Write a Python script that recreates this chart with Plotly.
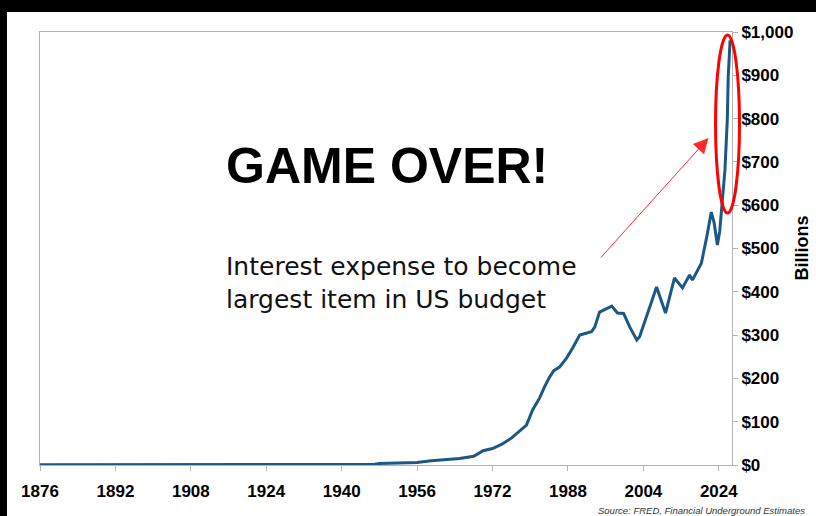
import plotly.graph_objects as go

# ---- data ----
years = [1876, 1885, 1895, 1900.5, 1901, 1915, 1930, 1940, 1947, 1948, 1952, 1956,
         1959, 1962, 1965, 1968, 1969.5, 1970, 1972, 1974, 1976, 1978, 1979.2, 1980.5,
         1982, 1983, 1984.1, 1985, 1986.2, 1987.7, 1989, 1990.5, 1992, 1993, 1993.7,
         1994.7, 1996, 1997.3, 1998.5, 1999.8, 2001.1, 2002.6, 2003.2, 2004.7, 2006,
         2006.8, 2008.7, 2010.6, 2012.3, 2013.8, 2014.4, 2016.3, 2017.5, 2018.4, 2019,
         2019.7, 2020.2, 2020.6, 2021.0, 2021.3, 2021.8, 2022.0, 2022.4]
interest = [0.3, 0.3, 0.3, 0.3, 1.5, 1.5, 1.5, 1.5, 1.8, 3.5, 4, 6,
            10, 12, 15, 20, 30, 33, 38, 48, 62, 80, 92, 127,
            155, 180, 203, 218, 226, 247, 270, 300, 305, 308, 319,
            353, 360, 367, 351, 350, 319, 289, 296, 342, 385,
            411, 351, 432, 409, 439, 427, 466, 530, 584, 560,
            508, 540, 585, 640, 681, 797, 897, 981]

x_tick_vals = [1876, 1892, 1908, 1924, 1940, 1956, 1972, 1988, 2004, 2020]
x_tick_text = ["1876", "1892", "1908", "1924", "1940", "1956", "1972", "1988", "2004", "2024"]
y_tick_vals = [0, 100, 200, 300, 400, 500, 600, 700, 800, 900, 1000]
y_tick_text = ["$0", "$100", "$200", "$300", "$400", "$500", "$600", "$700", "$800", "$900", "$1,000"]

title_text = "GAME OVER!"
note_text = "Interest expense to become<br>largest item in US budget"
source_text = "Source: FRED, Financial Underground Estimates"

# page offsets: black frame on the top (12px) and left (7px)
OX, OY = 7, 12
PAGE_W, PAGE_H = 816, 516
W, H = PAGE_W - OX, PAGE_H - OY
# plot area in page pixels: x 40..732.5, y 32..465
L, R, T, B = 40 - OX, PAGE_W - 732.5, 32 - OY, PAGE_H - 465
pw, ph = W - L - R, H - T - B


def px(xp):
    return (xp - OX - L) / pw


def py(yp):
    return (H - B - (yp - OY)) / ph


fig = go.Figure()
fig.add_trace(go.Scatter(
    x=years, y=interest, mode="lines",
    line=dict(color="#1c5886", width=3),
    hoverinfo="skip", showlegend=False,
))

axis_gray = "#b3b3b3"
tick_font = dict(family="Liberation Sans, Arial, sans-serif", size=17, color="#000000", weight="bold")

fig.update_layout(
    width=W, height=H,
    margin=dict(l=L, r=R, t=T, b=B, pad=0),
    paper_bgcolor="#ffffff", plot_bgcolor="#ffffff",
    xaxis=dict(
        range=[1876, 2022.8], tickmode="array", tickvals=x_tick_vals, ticktext=x_tick_text,
        showgrid=False, zeroline=False, showline=True, linecolor=axis_gray, linewidth=1,
        mirror=True, ticks="outside", ticklen=5, tickcolor=axis_gray,
        tickfont=tick_font, ticklabelstandoff=6,
    ),
    yaxis=dict(
        range=[0, 1000], side="right", tickmode="array", tickvals=y_tick_vals, ticktext=y_tick_text,
        showgrid=False, zeroline=False, showline=True, linecolor=axis_gray, linewidth=1,
        mirror=True, ticks="outside", ticklen=5, tickcolor=axis_gray,
        tickfont=tick_font,
    ),
    font=dict(family="Liberation Sans, Arial, sans-serif"),
)

fig.update_layout(
    annotations=[
        dict(text="<b>" + title_text + "</b>", x=px(387), y=py(166), xref="paper", yref="paper",
             xanchor="center", yanchor="middle", showarrow=False,
             font=dict(family="Liberation Sans, Arial, sans-serif", size=50, color="#000000")),
        dict(text=note_text, x=px(224), y=py(283), xref="paper", yref="paper",
             xanchor="left", yanchor="middle", align="left", showarrow=False,
             font=dict(family="DejaVu Sans, Verdana, sans-serif", size=25, color="#111111")),
        dict(text="<b>Billions</b>", x=px(803), y=py(248), xref="paper", yref="paper",
             xanchor="center", yanchor="middle", textangle=-90, showarrow=False,
             font=dict(family="Liberation Sans, Arial, sans-serif", size=18, color="#000000")),
        dict(text="<i>" + source_text + "</i>", x=px(808), y=py(510), xref="paper", yref="paper",
             xanchor="right", yanchor="middle", showarrow=False,
             font=dict(family="Liberation Sans Narrow, Liberation Sans, Arial, sans-serif", size=9.5,
                       color="#333333")),
        dict(text="", x=px(709), y=py(138), xref="paper", yref="paper",
             showarrow=True, ax=600 - 709, ay=259 - 138, axref="pixel", ayref="pixel",
             arrowcolor="#ff2a2a", arrowwidth=1, arrowhead=2, arrowsize=3, standoff=0),
    ],
    shapes=[
        dict(type="circle", xref="paper", yref="paper",
             x0=px(716), x1=px(740), y0=py(213), y1=py(35),
             line=dict(color="#ff0000", width=3), layer="above"),
    ],
)

fig.write_html(
    "out.html",
    config={"displayModeBar": False, "staticPlot": True},
    post_script=(
        "document.body.style.margin='0px';"
        "document.body.style.padding='12px 0px 0px 7px';"
        "document.body.style.background='#000000';"
        "document.body.style.overflow='hidden';"
    ),
)
